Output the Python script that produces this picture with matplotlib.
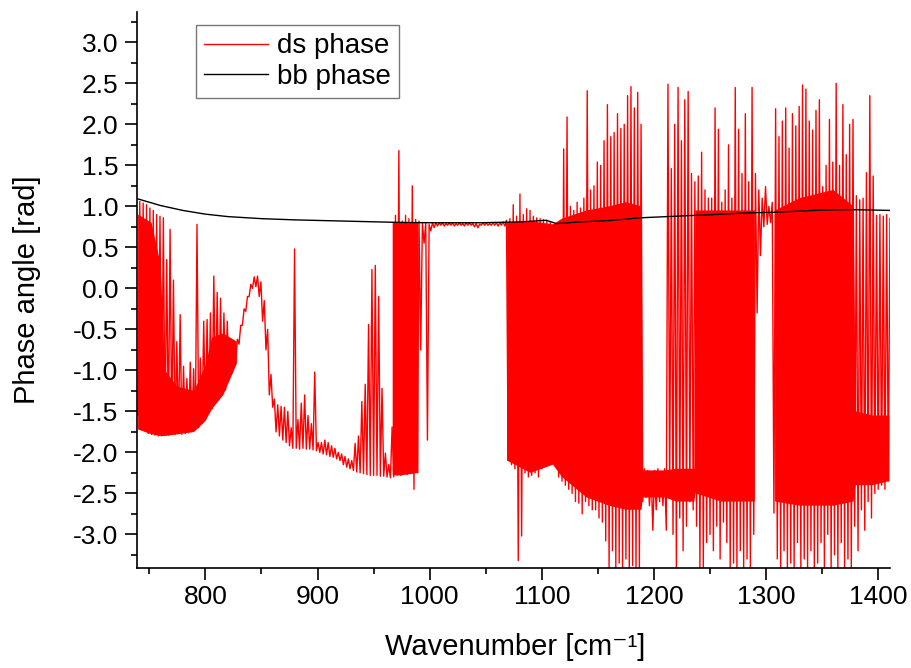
import numpy as np
import matplotlib
matplotlib.use("Agg")
import matplotlib.pyplot as plt

plt.rcParams["font.family"] = ["Liberation Sans", "DejaVu Sans"]
plt.rcParams["axes.unicode_minus"] = False

nan = np.nan

ds_wn = np.arange(740, 1410, 3)
ds_lo = [
    -1.55, -1.72, -1.74, -1.77, -1.78, -1.79, -1.80, -1.80, -1.78, -1.79,   # 740
    -1.78, -1.78, -1.77, -1.78, -1.77, -1.76, -1.75, -1.72, -1.70, -1.64,   # 770
    -1.60, -1.52, -1.47, -1.40, -1.35, -1.30, -1.24, -1.12, -1.03, -0.92,   # 800
    -0.68, -0.45, -0.28, -0.10, 0.00, 0.02, -0.10, -0.40, -0.75, -1.30,     # 830
    -1.45, -1.75, -1.80, -1.85, -1.88, -1.92, -1.95, -1.95, -1.96, -1.95,   # 860
    -1.96, -1.96, -1.97, -1.98, -2.00, -2.02, -2.03, -2.05, -2.06, -2.08,   # 890
    -2.10, -2.15, -2.18, -2.20, -2.22, -2.24, -2.25, -2.26, -2.27, -2.28,   # 920
    -2.28, -2.28, -2.29, -2.29, -2.30, -2.31, -2.30, -2.28, -2.28, -2.25,   # 950
    -2.27, -2.26, -2.45, -2.25, -0.75, 0.55, -1.85, 0.70, 0.74, 0.76,       # 980
    0.77, 0.76, 0.77, 0.77, 0.76, 0.77, 0.77, 0.76, 0.77, 0.77,             # 1010
    0.75, 0.74, 0.77, 0.77, 0.77, 0.77, 0.77, 0.76, 0.77, 0.76,             # 1040
    -2.10, -2.15, -2.20, -3.32, -3.02, -2.25, -2.30, -2.28, -2.25, -2.30,   # 1070
    -2.20, -2.10, -2.05, -1.90, -2.05, -2.30, -2.35, -2.40, -2.45, -2.50,   # 1100
    -2.60, -2.62, -2.75, -2.60, -2.65, -2.70, -2.70, -2.80, -2.85, -3.08,   # 1130
    -3.41, -3.20, -3.41, -3.35, -3.41, -3.30, -3.41, -3.38, -3.41, -3.41,   # 1160
    -2.60, -2.55, -2.65, -2.95, -2.70, -2.60, -2.65, -2.95, -2.50, -3.00,   # 1190
    -3.41, -2.80, -3.20, -2.90, -2.60, -2.70, -2.90, -3.41, -3.41, -3.10,   # 1220
    -3.00, -3.20, -2.90, -3.30, -2.85, -3.10, -3.41, -3.35, -3.41, -3.20,   # 1250
    -3.41, -3.30, -3.41, -3.00, -0.30, 0.40, 0.75, 0.78, 0.80, -2.74,       # 1280
    -3.30, -3.41, -3.20, -3.41, -3.35, -3.41, -3.10, -3.41, -3.30, -3.41,   # 1310
    -3.20, -3.41, -3.35, -3.10, -3.41, -3.00, -3.41, -3.25, -3.41, -3.10,   # 1340
    -3.41, -3.30, -3.41, -2.90, -3.20, -2.70, -2.95, -2.60, -2.80, -2.50,   # 1370
    -2.45, -2.40, -2.45, -2.35,                                             # 1400
]
ds_hi = [
    1.06, 1.04, 1.02, 0.98, 0.95, 0.90, 0.88, 0.86, 0.35, 0.72,             # 740
    0.10, -0.65, -0.32, -0.95, -1.10, -0.90, -0.98, 0.78, -0.85, -0.40,     # 770
    -0.38, -0.30, 0.15, -0.05, -0.12, -0.30, -0.40, -0.62, -0.75, -0.62,    # 800
    -0.45, -0.25, -0.10, 0.05, 0.14, 0.15, 0.08, -0.15, -0.50, -1.05,       # 830
    -1.35, -1.42, -1.44, -1.45, -1.50, -1.70, 0.48, -1.60, -1.40, -1.30,    # 860
    -1.55, -1.65, -1.02, -1.88, -1.88, -1.85, -1.88, -1.92, -1.95, -2.00,   # 890
    -2.02, -2.05, -2.08, -2.10, -1.89, -1.80, -1.38, -1.17, -0.44, 0.23,    # 920
    0.28, -0.10, -1.22, -2.01, -2.15, -1.69, 0.89, 1.68, 0.82, 0.89,        # 950
    0.85, 1.25, 0.84, 0.82, 0.80, 0.80, 0.78, 0.80, 0.80, 0.80,             # 980
    0.80, 0.79, 0.80, 0.80, 0.79, 0.80, 0.79, 0.80, 0.80, 0.79,             # 1010
    0.79, 0.78, 0.80, 0.80, 0.79, 0.80, 0.80, 0.80, 0.81, 0.83,             # 1040
    0.85, 1.02, 0.88, 1.15, 0.90, 0.97, 0.95, 0.88, 0.86, 0.85,             # 1070
    0.84, 0.83, 0.80, 0.78, 0.77, 0.80, 1.70, 2.09, 1.00, 0.95,             # 1100
    1.05, 0.98, 1.10, 2.41, 1.20, 1.25, 1.54, 1.50, 1.80, 2.24,             # 1130
    1.85, 1.90, 2.13, 1.95, 2.00, 2.35, 2.46, 2.20, 2.39, 2.00,             # 1160
    -2.20, -2.22, -2.25, -2.22, -2.20, -2.25, -2.20, 2.49, 1.46, 2.00,      # 1190
    2.45, 1.80, 2.30, 2.40, 1.40, 1.30, 1.37, 1.66, 1.20, 1.10,             # 1220
    1.10, 2.20, 1.94, 1.05, 1.20, 1.75, 1.10, 2.45, 1.94, 1.40,             # 1250
    2.13, 1.30, 2.45, 1.40, 1.20, 1.10, 1.24, 1.00, 1.05, 2.19,             # 1280
    1.85, 2.04, 2.20, 1.71, 2.13, 1.98, 2.22, 2.48, 2.43, 2.04,             # 1310
    1.93, 2.17, 2.30, 1.24, 1.50, 2.06, 1.54, 2.50, 1.50, 2.24,             # 1340
    1.63, 2.00, 2.06, 1.13, 1.08, 1.10, 1.41, 2.35, 1.37, 0.89,             # 1370
    0.90, 0.88, 0.90, 0.85,                                                 # 1400
]

# the solid (fully inked) core of the ds trace, nan = no solid core
core_wn = [740, 752, 760, 764, 775, 790, 800, 806, 816, 828, 829,
           966, 967, 975, 985, 990, 991,
           1068, 1069, 1090, 1110, 1118, 1140, 1160, 1175, 1189,
           1190, 1200, 1210, 1220, 1236, 1237, 1260, 1290, 1291,
           1307, 1308, 1330, 1360, 1378, 1380, 1395, 1410]
core_lo = [-1.72, -1.78, -1.80, -1.80, -1.78, -1.75, -1.62, -1.47, -1.30, -0.92, nan,
           nan, -2.28, -2.28, -2.26, -2.25, nan,
           nan, -2.10, -2.25, -2.15, -2.30, -2.55, -2.65, -2.70, -2.70,
           -2.55, -2.55, -2.55, -2.60, -2.60, -2.50, -2.60, -2.60, nan,
           nan, -2.60, -2.65, -2.65, -2.60, -2.40, -2.40, -2.35]
core_hi = [0.90, 0.80, 0.30, -1.00, -1.20, -1.25, -0.95, -0.60, -0.55, -0.65, nan,
           nan, 0.80, 0.80, 0.80, 0.80, nan,
           nan, 0.80, 0.82, 0.78, 0.85, 0.95, 1.00, 1.05, 1.00,
           -2.22, -2.22, -2.22, -2.20, -2.20, 0.95, 0.95, 0.95, nan,
           nan, 0.95, 1.10, 1.20, 1.00, -1.50, -1.55, -1.55]

# bb phase: smooth reference curve
bb_wn = [740, 760, 780, 800, 820, 850, 880, 910, 940, 970, 1000, 1045,
         1080, 1104, 1113, 1134, 1164, 1187, 1220, 1253, 1283, 1312, 1342,
         1372, 1395, 1411]
bb_val = [1.09, 1.01, 0.95, 0.905, 0.875, 0.85, 0.835, 0.825, 0.815, 0.805,
          0.80, 0.80, 0.81, 0.83, 0.79, 0.81, 0.83, 0.86, 0.88, 0.90, 0.92,
          0.93, 0.95, 0.96, 0.955, 0.95]

# zigzag between the low and high reading of each sample
x_ds = np.column_stack([ds_wn, ds_wn + 1.5]).ravel()
y_ds = np.column_stack([ds_lo, ds_hi]).ravel()

fig = plt.figure(figsize=(9.12, 6.68), dpi=100)
ax = fig.add_axes([137 / 912, 100 / 668, 753 / 912, 556 / 668])

ax.fill_between(core_wn, core_lo, core_hi, color="#ff0000", lw=0)
ax.plot(x_ds, y_ds, color="#ff0000", lw=1.0, label="ds phase")
ax.plot(bb_wn, bb_val, color="black", lw=1.0, label="bb phase")

ax.set_xlim(739, 1410.5)
ax.set_ylim(-3.41, 3.37)
ax.set_xticks(np.arange(800, 1401, 100))
ax.set_xticks(np.arange(750, 1401, 50), minor=True)
ax.set_yticks(np.arange(-3.0, 3.01, 0.5))
ax.set_yticks(np.arange(-3.25, 3.3, 0.25), minor=True)
ax.yaxis.set_major_formatter(matplotlib.ticker.FormatStrFormatter("%.1f"))

for s in ("top", "right"):
    ax.spines[s].set_visible(False)
for s in ("left", "bottom"):
    ax.spines[s].set_linewidth(1.2)
ax.tick_params(which="major", direction="out", length=8.5, width=1.2,
               labelsize=19)
ax.tick_params(which="minor", direction="out", length=4.3, width=1.2)
ax.tick_params(axis="y", pad=5)
ax.tick_params(axis="x", pad=4)

ax.set_xlabel("Wavenumber [cm\u207b\u00b9]", fontsize=21)
ax.set_ylabel("Phase angle [rad]", fontsize=21)
ax.xaxis.set_label_coords(0.502, -0.117)
ax.yaxis.set_label_coords(-0.127, 0.5)

leg = ax.legend(loc="upper left", bbox_to_anchor=(195.7 / 912, 1 - 25 / 668),
                bbox_transform=fig.transFigure, fontsize=20, frameon=True,
                fancybox=False, borderaxespad=0, borderpad=0.3,
                handlelength=2.3, handletextpad=0.32, labelspacing=0.15)
leg.get_frame().set_edgecolor("#555555")
leg.get_frame().set_linewidth(1.0)

plt.savefig("out.png", dpi=100)
